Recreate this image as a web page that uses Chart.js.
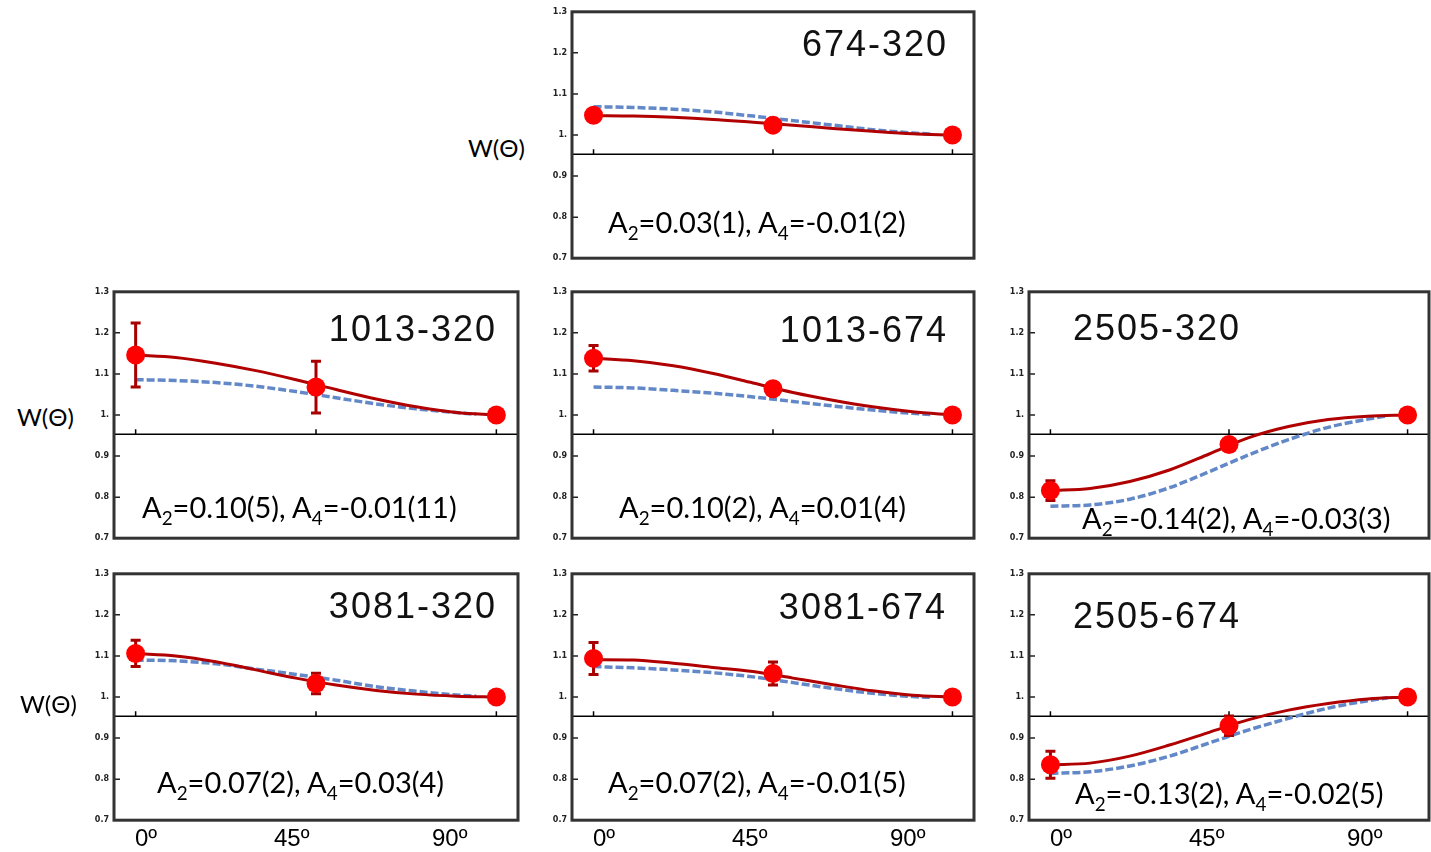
<!DOCTYPE html>
<html>
<head>
<meta charset="utf-8">
<script src="https://cdn.jsdelivr.net/npm/chart.js@4.4.1/dist/chart.umd.min.js"></script>
<style>
  html, body { margin: 0; padding: 0; background: #fff; }
  body { width: 1431px; height: 852px; position: relative; overflow: hidden; }
  canvas { position: absolute; }
  .title { position: absolute; font-family: 'Liberation Sans', Arial, sans-serif; font-size: 36px; letter-spacing: 2px;
           color: #111; line-height: 1; white-space: nowrap; transform: translateY(-50%); }
  .note { position: absolute; font-family: Lato, sans-serif; font-size: 29px; color: #000; line-height: 29px;
          white-space: nowrap; transform: translateY(-50%); }
  .note span { font-size: 0.65em; position: relative; top: 0.35em; }
  .ylab { position: absolute; font-family: Lato, sans-serif; font-size: 24px; color: #000; line-height: 24px;
          white-space: nowrap; transform: translateY(-50%); }
  .xlab { position: absolute; font-family: 'Liberation Sans', Arial, sans-serif; font-size: 24px; color: #000; line-height: 26px;
          white-space: nowrap; transform: translateY(-50%); }
</style>
</head>
<body>
<script>
// ---- data ----
const panelNames = ['674-320', '1013-320', '1013-674', '2505-320', '3081-320', '3081-674', '2505-674'];
const a2Labels = ['0.03(1)', '0.10(5)', '0.10(2)', '-0.14(2)', '0.07(2)', '0.07(2)', '-0.13(2)'];
const a4Labels = ['-0.01(2)', '-0.01(11)', '0.01(4)', '-0.03(3)', '0.03(4)', '-0.01(5)', '-0.02(5)'];

const dataAngles = [0, 45, 90];
const measured = [
  [1.048, 1.024, 1.0],
  [1.146, 1.068, 1.0],
  [1.138, 1.064, 1.0],
  [0.816, 0.928, 1.0],
  [1.106, 1.033, 1.0],
  [1.094, 1.057, 1.0],
  [0.835, 0.930, 1.0]
];
const measuredErr = [
  [0.01, 0.01, 0],
  [0.078, 0.063, 0],
  [0.031, 0.015, 0],
  [0.024, 0.015, 0],
  [0.032, 0.025, 0],
  [0.039, 0.028, 0],
  [0.033, 0.024, 0]
];

// fitted curve (dark red)
const fitAngles = [0, 10, 20, 30, 40, 50, 60, 70, 80, 90];
const fitValues = [
  [1.047, 1.046, 1.043, 1.038, 1.031, 1.024, 1.016, 1.009, 1.003, 1.0],
  [1.146, 1.140, 1.126, 1.108, 1.086, 1.062, 1.039, 1.020, 1.006, 1.0],
  [1.138, 1.132, 1.120, 1.101, 1.078, 1.055, 1.036, 1.020, 1.008, 1.0],
  [0.816, 0.821, 0.838, 0.866, 0.905, 0.945, 0.972, 0.989, 0.997, 1.0],
  [1.106, 1.100, 1.086, 1.066, 1.046, 1.029, 1.016, 1.007, 1.002, 1.0],
  [1.091, 1.090, 1.082, 1.072, 1.062, 1.046, 1.030, 1.015, 1.004, 1.0],
  [0.835, 0.839, 0.856, 0.883, 0.914, 0.945, 0.968, 0.984, 0.995, 1.0]
];

// theory curve (blue dashed)
const theoryAngles = [0, 10, 20, 30, 40, 50, 60, 70, 80, 85];
const theoryValues = [
  [1.069, 1.067, 1.063, 1.056, 1.046, 1.035, 1.024, 1.013, 1.005, 1.002],
  [1.086, 1.084, 1.079, 1.070, 1.057, 1.042, 1.027, 1.015, 1.006, 1.002],
  [1.068, 1.066, 1.060, 1.053, 1.044, 1.033, 1.022, 1.012, 1.004, 1.001],
  [0.778, 0.781, 0.795, 0.823, 0.862, 0.903, 0.940, 0.970, 0.990, 0.998],
  [1.090, 1.088, 1.081, 1.068, 1.055, 1.041, 1.025, 1.014, 1.005, 1.002],
  [1.074, 1.071, 1.066, 1.059, 1.049, 1.035, 1.021, 1.009, 1.001, 0.999],
  [0.814, 0.818, 0.832, 0.856, 0.888, 0.920, 0.948, 0.973, 0.991, 0.998]
];

const yTicks = [0.7, 0.8, 0.9, 1.0, 1.1, 1.2, 1.3];
const xTickValues = [0, 45, 90];
const xTickLabels = ['0º', '45º', '90º'];
const yAxisLabel = 'W(Θ)';
const axisCrossing = 0.953;

// ---- layout (pixels) ----
const frames = [          // left, top, right, bottom of each plot frame
  [572, 10, 974, 260],
  [114, 290, 518, 540],
  [572, 290, 974, 540],
  [1029, 290, 1429, 540],
  [114, 572, 518, 822],
  [572, 572, 974, 822],
  [1029, 572, 1429, 822]
];
const titlePos = [['r', 26, 34], ['r', 21, 39], ['r', 26, 40], ['l', 44, 38], ['r', 21, 34], ['r', 27, 35], ['l', 44, 44]];
const notePos = [[608, 223], [142, 508], [619, 508], [1082, 519], [157, 783], [608, 783], [1075, 794]];
const yLabelPos = [[468, 148], [17, 417], [20, 704]];
const xLabelOffsets = [21, 160, 318];
const xLabelY = 838;

const padL = 40, padT = 8, padR = 6, padB = 8;

const framePlugin = {
  id: 'frame',
  beforeDatasetsDraw(chart) {
    const { ctx, chartArea: { left, right }, scales: { x, y } } = chart;
    const ya = y.getPixelForValue(axisCrossing);
    ctx.save();
    ctx.strokeStyle = '#000';
    ctx.lineWidth = 1.5;
    ctx.beginPath();
    ctx.moveTo(left, ya); ctx.lineTo(right, ya);
    xTickValues.forEach(v => {
      const px = x.getPixelForValue(v);
      ctx.moveTo(px, ya); ctx.lineTo(px, ya - 5);
    });
    ctx.stroke();
    ctx.restore();
  },
  beforeDatasetDraw(chart, args) {
    if (args.index !== 0) return;
    const { ctx, scales: { x, y } } = chart;
    const i = chart.options.plugins.frame.panel;
    ctx.save();
    ctx.strokeStyle = '#a80000';
    ctx.lineWidth = 3;
    dataAngles.forEach((a, k) => {
      const e = measuredErr[i][k];
      if (!e) return;
      const px = x.getPixelForValue(a);
      const y1 = y.getPixelForValue(measured[i][k] + e);
      const y2 = y.getPixelForValue(measured[i][k] - e);
      ctx.beginPath();
      ctx.moveTo(px, y1); ctx.lineTo(px, y2);
      ctx.moveTo(px - 5, y1); ctx.lineTo(px + 5, y1);
      ctx.moveTo(px - 5, y2); ctx.lineTo(px + 5, y2);
      ctx.stroke();
    });
    ctx.restore();
  },
  afterDraw(chart) {
    const { ctx, chartArea: { left, top, right, bottom }, scales: { y } } = chart;
    ctx.save();
    ctx.strokeStyle = '#222';
    ctx.lineWidth = 1.5;
    ctx.beginPath();
    yTicks.forEach(v => {
      const py = y.getPixelForValue(v);
      ctx.moveTo(left, py); ctx.lineTo(left + 6, py);
    });
    ctx.stroke();
    ctx.strokeStyle = '#333';
    ctx.lineWidth = 3;
    ctx.strokeRect(left, top, right - left, bottom - top);
    ctx.restore();
  }
};

function makePanel(i) {
  const [l, t, r, b] = frames[i];
  const w = r - l + padL + padR, h = b - t + padT + padB;
  const canvas = document.createElement('canvas');
  canvas.width = w; canvas.height = h;
  canvas.style.left = (l - padL) + 'px';
  canvas.style.top = (t - padT) + 'px';
  canvas.style.width = w + 'px';
  canvas.style.height = h + 'px';
  document.body.appendChild(canvas);

  new Chart(canvas, {
    type: 'scatter',
    data: {
      datasets: [
        {
          label: 'measured',
          data: dataAngles.map((a, k) => ({ x: a, y: measured[i][k] })),
          showLine: false,
          pointRadius: 9.5,
          pointHoverRadius: 9.5,
          backgroundColor: '#ff0000',
          borderWidth: 0,
          order: 0
        },
        {
          label: 'fit',
          data: fitAngles.map((a, k) => ({ x: a, y: fitValues[i][k] })),
          showLine: true,
          pointRadius: 0,
          borderColor: '#b00000',
          borderWidth: 3,
          cubicInterpolationMode: 'monotone',
          order: 1
        },
        {
          label: 'theory',
          data: theoryAngles.map((a, k) => ({ x: a, y: theoryValues[i][k] })),
          showLine: true,
          pointRadius: 0,
          borderColor: '#6388c8',
          borderWidth: 3.5,
          borderDash: [8, 3],
          cubicInterpolationMode: 'monotone',
          order: 2
        }
      ]
    },
    options: {
      responsive: false,
      animation: false,
      events: [],
      layout: { autoPadding: false, padding: { left: 14, top: padT, right: padR, bottom: padB } },
      plugins: {
        legend: { display: false },
        tooltip: { enabled: false },
        frame: { panel: i }
      },
      scales: {
        x: { type: 'linear', min: -5.4, max: 95.4, display: false },
        y: {
          min: 0.7,
          max: 1.3,
          afterFit: s => { s.width = 26; },
          afterBuildTicks: s => { s.ticks = yTicks.map(v => ({ value: v })); },
          grid: { display: false, drawTicks: false },
          border: { display: false },
          ticks: {
            padding: 5,
            color: '#222',
            font: { size: 8, weight: 'bold', family: 'DejaVu Sans' },
            callback: v => (Math.abs(v - 1) < 1e-9 ? '1.' : v.toFixed(1))
          }
        }
      }
    },
    plugins: [framePlugin]
  });

  // panel title
  const tdiv = document.createElement('div');
  tdiv.className = 'title';
  tdiv.textContent = panelNames[i];
  const [al, dx, cy] = titlePos[i];
  if (al === 'r') tdiv.style.right = (1431 - (r - dx)) + 'px';
  else tdiv.style.left = (l + dx) + 'px';
  tdiv.style.top = (t + cy) + 'px';
  document.body.appendChild(tdiv);

  // coefficient note
  const ndiv = document.createElement('div');
  ndiv.className = 'note';
  ndiv.innerHTML = 'A<span>2</span>=' + a2Labels[i] + ', A<span>4</span>=' + a4Labels[i];
  ndiv.style.left = notePos[i][0] + 'px';
  ndiv.style.top = notePos[i][1] + 'px';
  document.body.appendChild(ndiv);
}

panelNames.forEach((_, i) => makePanel(i));

yLabelPos.forEach(([x, y]) => {
  const d = document.createElement('div');
  d.className = 'ylab';
  d.textContent = yAxisLabel;
  d.style.left = x + 'px';
  d.style.top = y + 'px';
  document.body.appendChild(d);
});

[frames[4], frames[5], frames[6]].forEach(f => {
  xTickLabels.forEach((lab, k) => {
    const d = document.createElement('div');
    d.className = 'xlab';
    d.textContent = lab;
    d.style.left = (f[0] + xLabelOffsets[k]) + 'px';
    d.style.top = xLabelY + 'px';
    document.body.appendChild(d);
  });
});
</script>
</body>
</html>
